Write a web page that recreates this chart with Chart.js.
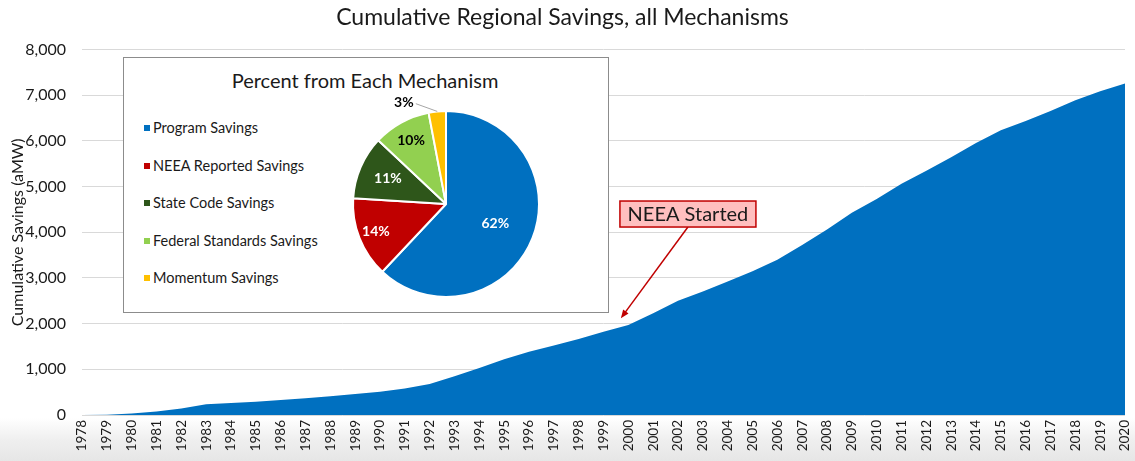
<!DOCTYPE html>
<html>
<head>
<meta charset="utf-8">
<script src="https://cdn.jsdelivr.net/npm/chart.js@4.4.1/dist/chart.umd.min.js"></script>
<style>
  html, body { margin: 0; padding: 0; }
  body {
    width: 1135px; height: 461px; overflow: hidden; position: relative;
    background: linear-gradient(to bottom, #ffffff 0px, #ffffff 418px, #efefef 440px, #e6e6e6 461px);
    font-family: Lato, "Open Sans", sans-serif;
  }
  #main { position: absolute; left: 0; top: 0; }
  #inset {
    position: absolute; left: 123px; top: 57px; width: 486px; height: 256px;
    box-sizing: border-box; border: 1px solid #8c8c8c; background: #fff;
  }
  #insetTitle {
    position: absolute; left: 0; width: 484px; top: 10px; text-align: center;
    font-size: 20px; color: #1a1a1a; line-height: 24px;
  }
  #insetTitle span { position: relative; left: -1px; }
  .lg { position: absolute; left: 20px; font-size: 14.5px; color: #1a1a1a; line-height: 18px; white-space: nowrap; }
  .lg i { display: inline-block; width: 6px; height: 6px; margin-right: 3px; vertical-align: 2px; }
  #pie { position: absolute; left: 192px; top: 16px; }
</style>
</head>
<body>
<canvas id="main" width="1135" height="461"></canvas>
<div id="inset">
  <div id="insetTitle"><span>Percent from Each Mechanism</span></div>
  <div id="legend"></div>
  <canvas id="pie" width="260" height="260"></canvas>
</div>
<script>
// ---------- data ----------
const years = ["1978","1979","1980","1981","1982","1983","1984","1985","1986","1987","1988","1989","1990","1991","1992","1993","1994","1995","1996","1997","1998","1999","2000","2001","2002","2003","2004","2005","2006","2007","2008","2009","2010","2011","2012","2013","2014","2015","2016","2017","2018","2019","2020"];
const savings = [0, 5, 35, 75, 145, 235, 265, 290, 330, 365, 410, 460, 510, 580, 680, 850, 1030, 1220, 1385, 1520, 1665, 1820, 1970, 2230, 2500, 2705, 2925, 3145, 3400, 3720, 4060, 4430, 4730, 5065, 5350, 5645, 5955, 6235, 6435, 6655, 6890, 7090, 7260];
const yTicks = [0, 1000, 2000, 3000, 4000, 5000, 6000, 7000, 8000];

const mechanisms = ["Program Savings", "NEEA Reported Savings", "State Code Savings", "Federal Standards Savings", "Momentum Savings"];
const mechanismPct = [62, 14, 11, 10, 3];

// ---------- styles ----------
const mechColors = ["#0070C0", "#C00000", "#2E561A", "#92D050", "#FFC000"];
const labelColors = ["#ffffff", "#ffffff", "#ffffff", "#000000", "#000000"];
const labelSpots = [[0.57, 0], [0.81, 0], [0.68, 0], [0.78, 0], [1.18, -17.2]];
const FONT = "Lato, 'Open Sans', sans-serif";

// ---------- legend ----------
const lg = document.getElementById('legend');
mechanisms.forEach((m, i) => {
  const d = document.createElement('div');
  d.className = 'lg';
  d.style.top = (128.3 + i * 37.5 - 57 - 9 - 1) + 'px';
  d.innerHTML = '<i style="background:' + mechColors[i] + '"></i>' + m;
  lg.appendChild(d);
});

// ---------- annotation plugin ----------
const annotationPlugin = {
  id: 'neea',
  afterDatasetsDraw(chart) {
    const ctx = chart.ctx;
    const xs = chart.scales.x, ys = chart.scales.y;
    const tipX = xs.getPixelForValue(21.7), tipY = ys.getPixelForValue(2120);
    const bx = xs.getPixelForValue(24.4), by = ys.getPixelForValue(4400);
    const w = 136, h = 26;
    ctx.save();
    const sx = bx, sy = by + h / 2;
    ctx.strokeStyle = '#C00000'; ctx.fillStyle = '#C00000'; ctx.lineWidth = 1.5;
    ctx.beginPath(); ctx.moveTo(sx, sy);
    const ang = Math.atan2(tipY - sy, tipX - sx);
    const hl = 9;
    ctx.lineTo(tipX - Math.cos(ang) * hl * 0.7, tipY - Math.sin(ang) * hl * 0.7);
    ctx.stroke();
    ctx.beginPath();
    ctx.moveTo(tipX, tipY);
    ctx.lineTo(tipX - hl * Math.cos(ang - 0.38), tipY - hl * Math.sin(ang - 0.38));
    ctx.lineTo(tipX - hl * Math.cos(ang + 0.38), tipY - hl * Math.sin(ang + 0.38));
    ctx.closePath(); ctx.fill();
    ctx.fillStyle = '#FFBFBF';
    ctx.fillRect(bx - w / 2, by - h / 2, w, h);
    ctx.strokeStyle = '#C00000'; ctx.lineWidth = 1.5;
    ctx.strokeRect(bx - w / 2, by - h / 2, w, h);
    ctx.fillStyle = '#1a1a1a';
    ctx.font = '20px ' + FONT;
    ctx.textAlign = 'center'; ctx.textBaseline = 'middle';
    ctx.fillText('NEEA Started', bx, by + 1);
    ctx.restore();
  }
};

// ---------- main chart ----------
new Chart(document.getElementById('main'), {
  type: 'line',
  data: {
    labels: years,
    datasets: [{
      data: savings,
      fill: 'origin',
      backgroundColor: '#0070C0',
      borderWidth: 0,
      pointRadius: 0,
      tension: 0
    }]
  },
  options: {
    responsive: false,
    animation: false,
    layout: { padding: { right: 10, top: 0, left: 0, bottom: 0 } },
    plugins: {
      legend: { display: false },
      tooltip: { enabled: false },
      title: {
        display: true,
        text: 'Cumulative Regional Savings, all Mechanisms',
        font: { family: FONT, size: 23, weight: 'normal' },
        color: '#1a1a1a',
        padding: { top: 4, bottom: 18 }
      }
    },
    scales: {
      x: {
        offset: false,
        grid: { display: false, drawTicks: false },
        border: { display: false },
        ticks: { autoSkip: false, minRotation: 90, maxRotation: 90, padding: 5, font: { family: FONT, size: 13.5 }, color: '#1a1a1a' },
        afterFit(s) { s.height = 46; s.paddingLeft = 0; s.paddingRight = 0; }
      },
      y: {
        min: 0, max: 8000,
        afterBuildTicks(s) { s.ticks = yTicks.map(v => ({ value: v })); },
        grid: { color: '#d9d9d9', drawTicks: false, lineWidth: 1 },
        border: { display: false },
        ticks: {
          padding: 16,
          font: { family: FONT, size: 16 }, color: '#1a1a1a',
          callback: v => v.toLocaleString('en-US')
        },
        title: {
          display: true, text: 'Cumulative Savings (aMW)',
          font: { family: FONT, size: 16 }, color: '#1a1a1a',
          padding: { top: 8, bottom: 0 }
        },
        afterFit(s) { s.width = 82; s.paddingTop = 0; s.paddingBottom = 0; }
      }
    }
  },
  plugins: [annotationPlugin]
});

// ---------- pie labels plugin ----------
const pieLabels = {
  id: 'pieLabels',
  afterDatasetsDraw(chart) {
    const ctx = chart.ctx;
    const meta = chart.getDatasetMeta(0);
    ctx.save();
    ctx.font = 'bold 14px ' + FONT;
    ctx.textAlign = 'center'; ctx.textBaseline = 'middle';
    meta.data.forEach((arc, i) => {
      const { x, y, startAngle, endAngle, outerRadius } = arc.getProps(['x', 'y', 'startAngle', 'endAngle', 'outerRadius'], true);
      const mid = (startAngle + endAngle) / 2;
      const a = mid + labelSpots[i][1] * Math.PI / 180;
      const r = outerRadius * labelSpots[i][0];
      const lx = x + Math.cos(a) * r, ly = y + Math.sin(a) * r;
      if (labelSpots[i][0] > 1) {
        ctx.strokeStyle = '#a6a6a6'; ctx.lineWidth = 1;
        ctx.beginPath();
        ctx.moveTo(lx + 12, ly + 1);
        ctx.lineTo(x + Math.cos(mid) * outerRadius, y + Math.sin(mid) * outerRadius);
        ctx.stroke();
      }
      ctx.fillStyle = labelColors[i];
      ctx.fillText(mechanismPct[i] + '%', lx, ly);
    });
    ctx.restore();
  }
};

new Chart(document.getElementById('pie'), {
  type: 'pie',
  data: {
    labels: mechanisms,
    datasets: [{
      data: mechanismPct,
      backgroundColor: mechColors,
      borderColor: '#ffffff',
      borderWidth: 2,
      radius: 93
    }]
  },
  options: {
    responsive: false,
    animation: false,
    rotation: 0,
    plugins: { legend: { display: false }, tooltip: { enabled: false } }
  },
  plugins: [pieLabels]
});
</script>
</body>
</html>
